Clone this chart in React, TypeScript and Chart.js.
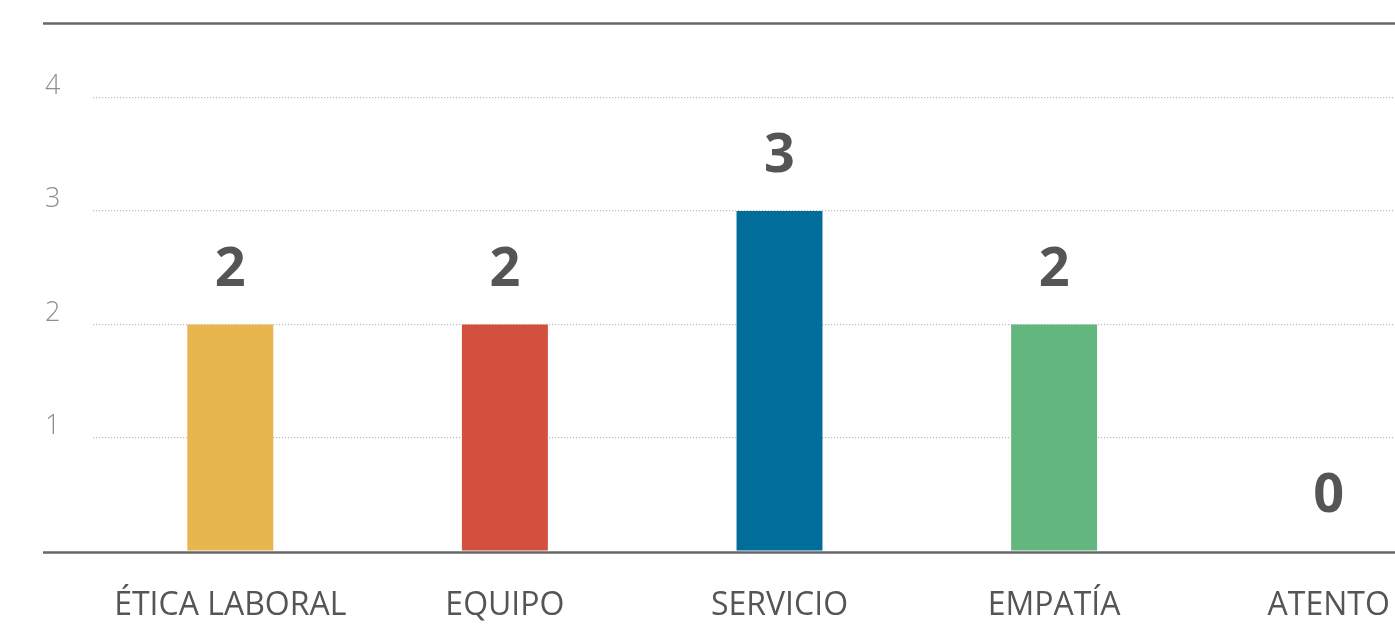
import React, { useEffect, useRef } from "react";
import { Chart, registerables } from "chart.js";

Chart.register(...registerables);

const categories = ["ÉTICA LABORAL", "EQUIPO", "SERVICIO", "EMPATÍA", "ATENTO"];
const values = [2, 2, 3, 2, 0];
const barColors = ["#E8B64F", "#D4503E", "#016D9A", "#64B67F", "#9E9E9E"];
const yTicks = [0, 1, 2, 3, 4];

const FONT = "'Open Sans', 'DejaVu Sans', sans-serif";

const framePlugin = {
  id: "frameLines",
  afterDatasetsDraw(chart: any) {
    const { ctx, chartArea, width } = chart;
    ctx.save();
    ctx.strokeStyle = "#686868";
    ctx.lineWidth = 2.5;
    ctx.beginPath();
    ctx.moveTo(43, chartArea.top + 0.5);
    ctx.lineTo(width, chartArea.top + 0.5);
    ctx.moveTo(43, chartArea.bottom + 1.5);
    ctx.lineTo(width, chartArea.bottom + 1.5);
    ctx.stroke();
    ctx.restore();
  },
};

const valueLabelPlugin = {
  id: "valueLabels",
  afterDatasetsDraw(chart: any) {
    const { ctx } = chart;
    const meta = chart.getDatasetMeta(0);
    const ds = chart.data.datasets[0];
    ctx.save();
    ctx.font = `bold 54px ${FONT}`;
    ctx.fillStyle = "#555555";
    ctx.textAlign = "center";
    ctx.textBaseline = "middle";
    meta.data.forEach((bar: any, i: number) => {
      ctx.fillText(String(ds.data[i]), bar.x, bar.y - 54);
    });
    ctx.restore();
  },
};

export default function App() {
  const ref = useRef<HTMLCanvasElement>(null);
  useEffect(() => {
    if (!ref.current) return;
    const chart = new Chart(ref.current, {
      type: "bar",
      data: {
        labels: categories,
        datasets: [
          {
            data: values,
            backgroundColor: barColors,
            borderWidth: 0,
            categoryPercentage: 1,
            barPercentage: 0.313,
          },
        ],
      },
      options: {
        responsive: false,
        animation: false,
        devicePixelRatio: 1,
        layout: { padding: { left: 45, top: 23, right: 0, bottom: 0 } },
        plugins: {
          legend: { display: false },
          tooltip: { enabled: false },
          title: { display: false },
        },
        scales: {
          x: {
            grid: { display: false, drawTicks: false },
            border: { display: false },
            ticks: {
              color: "#555555",
              font: { family: FONT, size: 32, weight: "normal" },
              padding: 36,
              maxRotation: 0,
              autoSkip: false,
            },
            afterFit(scale: any) {
              scale.height = 82;
            },
          },
          y: {
            min: 0,
            max: 4.66,
            grid: {
              drawTicks: false,
              color: (c: any) => (c.tick && c.tick.value === 0 ? "rgba(0,0,0,0)" : "#BDBDBD"),
              lineWidth: 1.2,
            },
            border: { display: false, dash: [1.2, 1.8] },
            ticks: {
              color: "#8E8E8E",
              font: { family: FONT, size: 27, weight: "300" },
              crossAlign: "far",
              padding: 0,
              labelOffset: -11.5,
              callback: (v: any) => (v === 0 ? "" : String(v)),
            },
            afterBuildTicks(scale: any) {
              scale.ticks = yTicks.map((v) => ({ value: v }));
            },
            afterFit(scale: any) {
              scale.width = 48;
            },
          },
        },
      },
      plugins: [framePlugin, valueLabelPlugin],
    });
    return () => chart.destroy();
  }, []);

  return (
    <div
      style={{
        position: "absolute",
        left: 0,
        top: 0,
        width: 1395,
        height: 633,
        overflow: "hidden",
        background: "#ffffff",
      }}
    >
      <canvas ref={ref} width={1466} height={633} style={{ display: "block" }} />
    </div>
  );
}
